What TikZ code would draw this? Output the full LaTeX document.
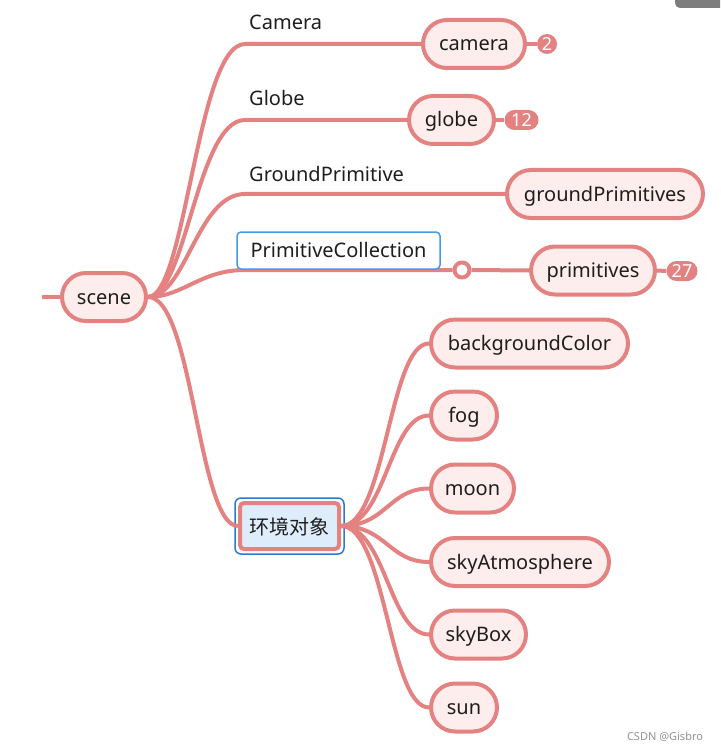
\documentclass[tikz,border=0pt]{standalone}
\usepackage{fontspec}
\setmainfont{Noto Sans}
\newfontfamily\cjk{Noto Sans CJK SC}
\usetikzlibrary{calc}
\definecolor{pk}{RGB}{228,130,130}
\definecolor{pkfill}{RGB}{253,237,236}
\definecolor{bl}{RGB}{64,155,238}
\definecolor{bldark}{RGB}{42,122,212}
\definecolor{blfill}{RGB}{222,237,252}
\definecolor{txt}{RGB}{30,30,30}
\definecolor{uigray}{RGB}{125,125,125}
\tikzset{
  topic/.style={draw=pk, fill=pkfill, line width=4pt, rounded corners=24pt, minimum height=48pt, inner sep=0pt, text height=16pt, text depth=2pt, font=\fontsize{20}{24}\selectfont, text=txt},
  edge/.style={draw=pk, line width=4pt},
  lbl/.style={font=\fontsize{20}{24}\selectfont, text=txt, inner sep=0pt, text height=16pt, text depth=2pt, anchor=west},
  badge/.style={fill=pk, text=white, font=\fontsize{18}{20}\selectfont, inner sep=0pt, text height=13pt, text depth=0pt, minimum height=20pt, rounded corners=10pt},
}
\begin{document}
\begin{tikzpicture}[x=1pt,y=-1pt]
\useasboundingbox (0,0) rectangle (720,751);
\begin{scope}
\clip (0,0) rectangle (720,751);
\fill[uigray, rounded corners=5pt] (675,-12) rectangle (730,8);
\end{scope}

% nodes
\node[topic, minimum width=84pt] (scene) at (104,297) {scene};
\node[topic, minimum width=102pt] (camera) at (474,44) {camera};
\node[topic, minimum width=85pt] (globe) at (451.5,120) {globe};
\node[topic, minimum width=196pt] (ground) at (605,194) {groundPrimitives};
\node[topic, minimum width=124pt] (prims) at (593,270.5) {primitives};
\node[topic, minimum width=197pt] (bg) at (529.5,343.5) {backgroundColor};
\node[topic, minimum width=66pt] (fog) at (464,415.5) {fog};
\node[topic, minimum width=83pt] (moon) at (472.5,488.5) {moon};
\node[topic, minimum width=178pt] (sky) at (520,562) {skyAtmosphere};
\node[topic, minimum width=95pt] (skybox) at (478.5,634.5) {skyBox};
\node[topic, minimum width=66pt] (sun) at (464,707.5) {sun};
\node[draw=pk, fill=blfill, line width=4pt, rounded corners=4pt, minimum width=99pt, minimum height=46pt, inner sep=0pt, text height=17pt, text depth=1pt, font=\cjk\fontsize{20}{24}\selectfont, text=txt] (env) at (289.5,526) {环境对象};
\draw[bldark, line width=1.5pt, rounded corners=6pt] ($(env.south west)+(-3,3)$) rectangle ($(env.north east)+(3,-3)$);

% badges
\node[badge, minimum width=20pt] (b2) at (547,44) {2};
\node[badge, minimum width=34pt] (b12) at (521.5,120) {12};
\node[badge, minimum width=31pt] (b27) at (682,271) {27};
\node[circle, draw=pk, fill=white, line width=4pt, minimum size=15pt, inner sep=0pt] (knob) at (462,270) {};

% label text
\node[lbl] (lcam) at (249,23) {Camera};
\node[lbl] (lglobe) at (249,99) {Globe};
\node[lbl] (lground) at (249,175) {GroundPrimitive};

% bend points
\coordinate (stub) at (42,297);
\coordinate (kcam) at (245,44);
\coordinate (kglobe) at (245,120);
\coordinate (kground) at (245,194);
\coordinate (kpc) at (245,270);

% edges from scene
\draw[edge] (stub) -- (scene.west);
\draw[edge] (scene.east) .. controls +(38,0) and +(-48,0) .. (kcam) -- (camera.west);
\draw[edge] (scene.east) .. controls +(38,0) and +(-48,0) .. (kglobe) -- (globe.west);
\draw[edge] (scene.east) .. controls +(38,0) and +(-48,0) .. (kground) -- (ground.west);
\draw[edge] (scene.east) .. controls +(35,0) and +(-45,0) .. (kpc) -- (knob.west);
\draw[edge] (knob.east) -- (prims.west);
\draw[edge] (scene.east) .. controls +(45,0) and +(-40,0) .. (env.west);

% PrimitiveCollection box on top of its line
\node[draw=bl, fill=white, line width=1.5pt, rounded corners=4pt, minimum width=203pt, minimum height=37pt, inner sep=0pt, text height=16pt, text depth=2pt, font=\fontsize{20}{24}\selectfont, text=txt] (pc) at (338.5,250.5) {PrimitiveCollection};

% edges from env
\foreach \c in {bg,fog,moon,sky,skybox,sun}
  \draw[edge] (env.east) .. controls +(45,0) and +(-40,0) .. (\c.west);

% badge connectors
\draw[edge] (camera.east) -- (b2.west);
\draw[edge] (globe.east) -- (b12.west);
\draw[edge] (prims.east) -- (b27.west);

% watermark
\node[font=\fontsize{11}{13}\selectfont, text=gray!85, inner sep=0pt] (wm) at (665,737) {CSDN @Gisbro};
\end{tikzpicture}
\end{document}
